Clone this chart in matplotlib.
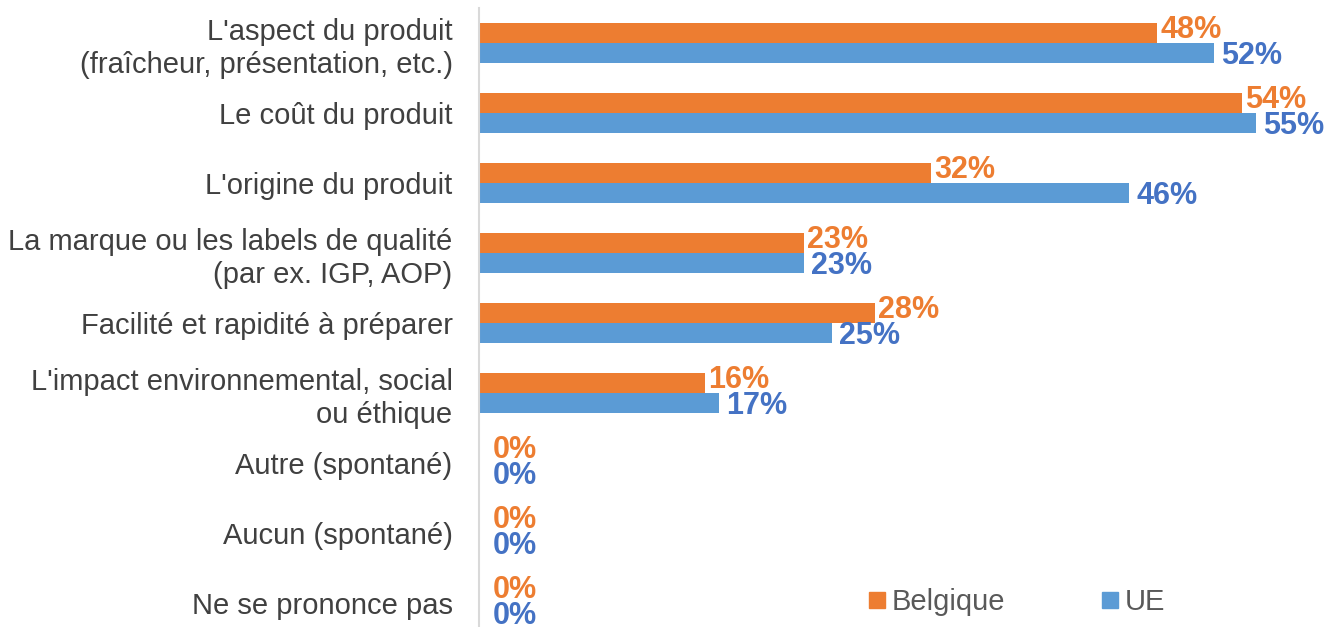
import numpy as np
import matplotlib.pyplot as plt
from matplotlib.lines import Line2D

plt.rcParams['font.family'] = ['Liberation Sans', 'DejaVu Sans']

categories = ["L'aspect du produit\n(fraîcheur, présentation, etc.)",
              "Le coût du produit",
              "L'origine du produit",
              "La marque ou les labels de qualité\n(par ex. IGP, AOP)",
              "Facilité et rapidité à préparer",
              "L'impact environnemental, social\nou éthique",
              "Autre (spontané)",
              "Aucun (spontané)",
              "Ne se prononce pas"]
belgique = [48, 54, 32, 23, 28, 16, 0, 0, 0]
ue = [52, 55, 46, 23, 25, 17, 0, 0, 0]

c_be = '#ED7D31'
c_ue = '#5B9BD5'
t_be = '#ED7D31'
t_ue = '#4472C4'

fig = plt.figure(figsize=(13.41, 6.27), dpi=100)
ax = fig.add_axes([479 / 1341, (627 - 638) / 627, 848 / 1341, 630 / 627])

y = np.arange(len(categories))
h = 0.2857
ax.barh(y - h / 2, belgique, height=h, color=c_be)
ax.barh(y + h / 2, ue, height=h, color=c_ue)

for i in range(len(categories)):
    dx_be = 2 if belgique[i] else 10
    dx_ue = 5 if ue[i] else 10
    ax.annotate(f'{belgique[i]}%', (belgique[i], y[i] - h / 2), xytext=(dx_be, 2),
                textcoords='offset points', ha='left', va='center',
                color=t_be, fontsize=22, fontweight='bold')
    ax.annotate(f'{ue[i]}%', (ue[i], y[i] + h / 2), xytext=(dx_ue, -2),
                textcoords='offset points', ha='left', va='center',
                color=t_ue, fontsize=22, fontweight='bold')

ax.set_xlim(0, 60)
ax.set_ylim(len(categories) - 0.5, -0.5)
ax.set_yticks(y)
ax.set_yticklabels(categories, fontsize=21, color='#404040', linespacing=1.22)
ax.tick_params(axis='y', length=0, pad=19)
ax.set_xticks([])
for s in ['top', 'right', 'bottom']:
    ax.spines[s].set_visible(False)
ax.spines['left'].set_color('#D9D9D9')
ax.spines['left'].set_linewidth(1.5)
ax.set_facecolor('none')

handles = [Line2D([], [], marker='s', color=c_be, linestyle='none', markersize=11),
           Line2D([], [], marker='s', color=c_ue, linestyle='none', markersize=11)]
leg = fig.legend(handles, ['Belgique', 'UE'], loc='center left', ncol=2,
                 bbox_to_anchor=(842 / 1341, 1 - 602 / 627), frameon=False,
                 fontsize=21, handlelength=0.6, handletextpad=0.2,
                 columnspacing=3.3, labelcolor='#595959')

fig.savefig('out.png', dpi=100)
